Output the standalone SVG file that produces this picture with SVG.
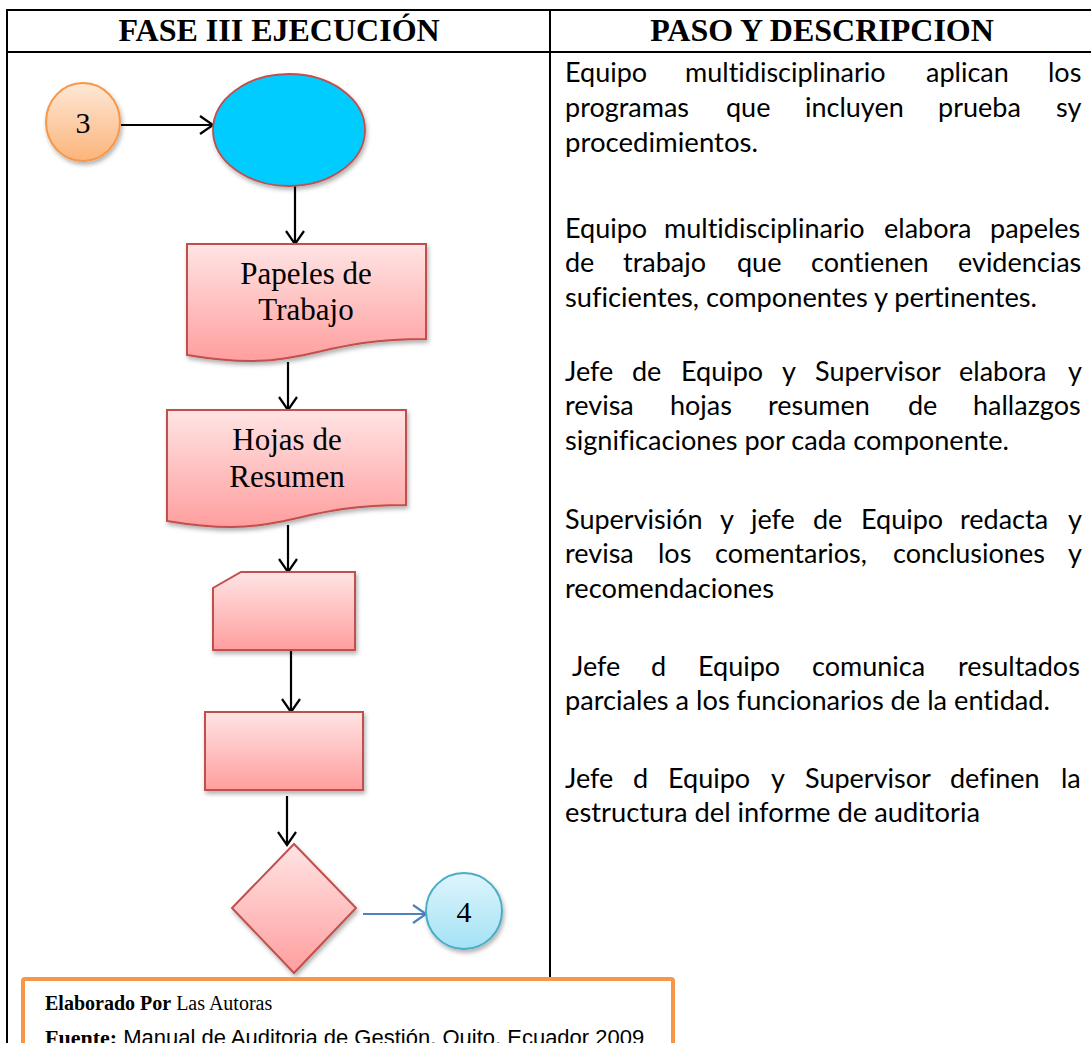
<svg xmlns="http://www.w3.org/2000/svg" width="1091" height="1043" viewBox="0 0 1091 1043">
<style>
.grid{stroke:#000;stroke-width:2;fill:none}
.hdr{font-family:"Liberation Serif","Times New Roman",serif;font-weight:bold;font-size:32px;fill:#000;text-anchor:middle}
.lbl{font-family:"Liberation Serif","Times New Roman",serif;font-size:31px;fill:#000;text-anchor:middle}
.num{font-family:"Liberation Serif","Times New Roman",serif;font-size:30px;fill:#000;text-anchor:middle}
.pink{fill:url(#gPink);stroke:#C0504D;stroke-width:2;filter:url(#sh)}
.desc{font-family:Lato,"Open Sans",sans-serif;font-size:27px;fill:#000;font-variant-ligatures:none;font-feature-settings:"liga" 0}
.con{stroke:#000;stroke-width:2.2;fill:none;marker-end:url(#arr)}
.conb{stroke:#4F81BD;stroke-width:2.2;fill:none;marker-end:url(#arrB)}
.foot{font-family:"Liberation Serif","Times New Roman",serif;font-size:20px;fill:#000}
.foot2{font-family:"Liberation Serif","Times New Roman",serif;font-size:22px;fill:#000}
.foots{font-family:"Liberation Sans",Arial,sans-serif;font-size:22px;fill:#000}
</style>
<defs>
<filter id="sh" x="-20%" y="-20%" width="150%" height="150%">
<feDropShadow dx="1.5" dy="3" stdDeviation="2" flood-color="#000" flood-opacity="0.3"/>
</filter>
<linearGradient id="gPink" x1="0" y1="0" x2="0" y2="1">
<stop offset="0" stop-color="#FFE4E4"/><stop offset="1" stop-color="#FF9E9E"/>
</linearGradient>
<linearGradient id="gOrange" x1="0" y1="0" x2="0" y2="1">
<stop offset="0" stop-color="#FEE8D6"/><stop offset="1" stop-color="#FBB47A"/>
</linearGradient>
<linearGradient id="gBlue" x1="0" y1="0" x2="0" y2="1">
<stop offset="0" stop-color="#DEF5FC"/><stop offset="1" stop-color="#A4E2F5"/>
</linearGradient>
<marker id="arr" viewBox="0 0 16 20" refX="14" refY="10" markerWidth="16" markerHeight="20" markerUnits="userSpaceOnUse" orient="auto">
<path d="M1,1 L14,10 L1,19" fill="none" stroke="#000" stroke-width="2.2"/>
</marker>
<marker id="arrB" viewBox="0 0 16 20" refX="14" refY="10" markerWidth="16" markerHeight="20" markerUnits="userSpaceOnUse" orient="auto">
<path d="M1,1 L14,10 L1,19" fill="none" stroke="#4F81BD" stroke-width="2.2"/>
</marker>
</defs>
<rect width="1091" height="1043" fill="#fff"/>

<g id="table">
<line class="grid" x1="7" y1="10" x2="1091" y2="10"/>
<line class="grid" x1="7" y1="52" x2="1091" y2="52"/>
<line class="grid" x1="7" y1="9" x2="7" y2="1043"/>
<line class="grid" x1="550" y1="9" x2="550" y2="979"/>
<text class="hdr" x="279" y="41">FASE III EJECUCIÓN</text>
<text class="hdr" x="822" y="41">PASO Y DESCRIPCION</text>
</g>

<g id="connectors">
<line class="con" x1="121" y1="125" x2="213" y2="125"/>
<line class="con" x1="295" y1="186" x2="295" y2="244"/>
<line class="con" x1="288" y1="362" x2="288" y2="410"/>
<line class="con" x1="288" y1="525" x2="288" y2="572"/>
<line class="con" x1="291" y1="650" x2="291" y2="712"/>
<line class="con" x1="287" y1="796" x2="287" y2="845"/>
<line class="conb" x1="363" y1="914" x2="426" y2="914"/>
</g>

<g id="node-3">
<ellipse cx="83" cy="122" rx="37" ry="39" fill="url(#gOrange)" stroke="#F79646" stroke-width="2" filter="url(#sh)"/>
<text class="num" x="83" y="133">3</text>
</g>

<g id="node-start">
<ellipse cx="289" cy="130" rx="76" ry="56" fill="#00CCFF" stroke="#C0504D" stroke-width="1.8" filter="url(#sh)"/>
</g>

<g id="node-papeles">
<path class="pink" d="M187,244 L426,244 L426,339 C306.5,339 306.5,375 187,355 Z"/>
<text class="lbl" x="306" y="284">Papeles de</text>
<text class="lbl" x="306" y="320">Trabajo</text>
</g>

<g id="node-hojas">
<path class="pink" d="M167,410 L406,410 L406,505 C286.5,505 286.5,541 167,521 Z"/>
<text class="lbl" x="287" y="450">Hojas de</text>
<text class="lbl" x="287" y="487">Resumen</text>
</g>

<g id="node-card">
<path class="pink" d="M241,572 L355,572 L355,650 L213,650 L213,588 Z"/>
</g>

<g id="node-process">
<rect class="pink" x="205" y="712" width="158" height="78"/>
</g>

<g id="node-decision">
<path class="pink" d="M294,844 L356,908 L294,973 L232,908 Z"/>
</g>

<g id="node-4">
<circle cx="464" cy="911" r="38" fill="url(#gBlue)" stroke="#4BACC6" stroke-width="2" filter="url(#sh)"/>
<text class="num" x="464" y="922">4</text>
</g>

<g id="descriptions" class="desc">
<text y="82"><tspan x="565">Equipo</tspan><tspan x="685">multidisciplinario</tspan><tspan x="926">aplican</tspan><tspan x="1048">los</tspan></text>
<text y="117"><tspan x="565">programas</tspan><tspan x="726">que</tspan><tspan x="805">incluyen</tspan><tspan x="938">prueba</tspan><tspan x="1056">sy</tspan></text>
<text x="565" y="152" textLength="193" lengthAdjust="spacingAndGlyphs">procedimientos.</text>

<text y="238"><tspan x="565">Equipo</tspan><tspan x="664">multidisciplinario</tspan><tspan x="884">elabora</tspan><tspan x="990">papeles</tspan></text>
<text y="272"><tspan x="565">de</tspan><tspan x="623">trabajo</tspan><tspan x="737">que</tspan><tspan x="811">contienen</tspan><tspan x="958">evidencias</tspan></text>
<text x="565" y="307" textLength="472" lengthAdjust="spacingAndGlyphs">suficientes, componentes y pertinentes.</text>

<text y="381"><tspan x="565">Jefe</tspan><tspan x="632">de</tspan><tspan x="681">Equipo</tspan><tspan x="782">y</tspan><tspan x="815">Supervisor</tspan><tspan x="959">elabora</tspan><tspan x="1068">y</tspan></text>
<text y="415"><tspan x="565">revisa</tspan><tspan x="670">hojas</tspan><tspan x="768">resumen</tspan><tspan x="908">de</tspan><tspan x="973">hallazgos</tspan></text>
<text x="565" y="450" textLength="444" lengthAdjust="spacingAndGlyphs">significaciones por cada componente.</text>

<text y="529"><tspan x="565">Supervisión</tspan><tspan x="720">y</tspan><tspan x="751">jefe</tspan><tspan x="813">de</tspan><tspan x="861">Equipo</tspan><tspan x="960">redacta</tspan><tspan x="1068">y</tspan></text>
<text y="563"><tspan x="565">revisa</tspan><tspan x="658">los</tspan><tspan x="715">comentarios,</tspan><tspan x="893">conclusiones</tspan><tspan x="1068">y</tspan></text>
<text x="565" y="598" textLength="209" lengthAdjust="spacingAndGlyphs">recomendaciones</text>

<text y="676"><tspan x="572">Jefe</tspan><tspan x="651">d</tspan><tspan x="698">Equipo</tspan><tspan x="812">comunica</tspan><tspan x="958">resultados</tspan></text>
<text x="565" y="710" textLength="485" lengthAdjust="spacingAndGlyphs">parciales a los funcionarios de la entidad.</text>

<text y="788"><tspan x="565">Jefe</tspan><tspan x="633">d</tspan><tspan x="668">Equipo</tspan><tspan x="771">y</tspan><tspan x="805">Supervisor</tspan><tspan x="950">definen</tspan><tspan x="1061">la</tspan></text>
<text x="565" y="822" textLength="415" lengthAdjust="spacingAndGlyphs">estructura del informe de auditoria</text>
</g>

<g id="footer">
<rect x="23" y="979" width="650" height="80" rx="2" fill="#fff" stroke="#F79646" stroke-width="4"/>
<text class="foot" x="45" y="1010"><tspan font-weight="bold">Elaborado Por</tspan> Las Autoras</text>
<text class="foot2" x="45" y="1045"><tspan font-weight="bold">Fuente:</tspan><tspan class="foots"> Manual de Auditoria de Gestión, Quito, Ecuador 2009</tspan></text>
</g>
</svg>
